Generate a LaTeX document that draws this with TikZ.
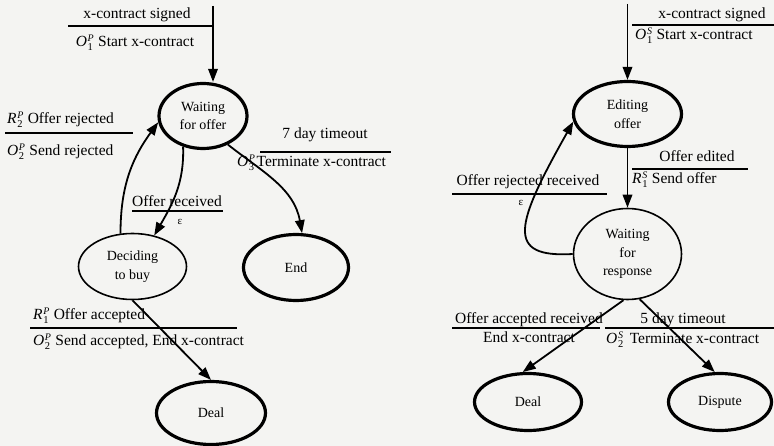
\documentclass[tikz,border=0pt]{standalone}
\usepackage{fontspec}
\setmainfont{Liberation Serif}
\usetikzlibrary{arrows.meta,shapes.geometric}

% transition label symbol: italic letter with stacked sub- and superscript
\newcommand{\trsym}[3]{\textit{#1}\kern0.6pt${}^{\mbox{\fontsize{10}{10}\selectfont\itshape #3}}_{\mbox{\fontsize{10.5}{10.5}\selectfont #2}}$}

\definecolor{paper}{RGB}{244,244,242}

\tikzset{
  state/.style={ellipse, draw, line width=1.6pt, inner sep=0pt,
    font=\fontsize{14}{18.5}\selectfont, align=center},
  final/.style={state, line width=3.2pt},
  lab/.style={inner sep=0pt, text height=11pt, text depth=3.5pt,
    font=\fontsize{15.5}{18}\selectfont},
  epsl/.style={inner sep=0pt, font=\fontsize{11}{11}\selectfont},
  rule/.style={line width=1.5pt},
  edge/.style={line width=1.8pt, -{Triangle[length=13pt,width=9.5pt]}}
}

\begin{document}
\begin{tikzpicture}[x=1pt,y=-1pt]
\fill[paper] (0,0) rectangle (774,446);
\useasboundingbox (0,0) rectangle (774,446);

% ---- buyer side states
\node[final, minimum width=88pt, minimum height=65pt] (wfo) at (203,116) {Waiting\\for offer};
\node[state, minimum width=108pt, minimum height=66pt] (dtb) at (132.5,266.5) {Deciding\\to buy};
\node[final, minimum width=105pt, minimum height=66pt] (end) at (296,267.5) {End};
\node[final, minimum width=109pt, minimum height=63pt] (deal1) at (211,413) {Deal};

% ---- seller side states
\node[final, minimum width=108pt, minimum height=65pt] (edit) at (627.5,114) {Editing\\offer};
\node[state, minimum width=108pt, minimum height=91pt] (wfr) at (627.5,254) {Waiting\\for\\response};
\node[final, minimum width=107pt, minimum height=57pt] (deal2) at (528,402) {Deal};
\node[final, minimum width=103pt, minimum height=57pt] (disp) at (720,402) {Dispute};

% ---- buyer side labels
\node[lab] (l1a) at (137,15) {x-contract signed};
\draw[rule] (68,26) -- (212,26);
\node[lab] (l1b) at (135,43) {\trsym{O}{1}{P} Start x-contract};

\node[lab, anchor=west] (l2a) at (7,120) {\trsym{R}{2}{P} Offer rejected};
\draw[rule] (5,133) -- (133,133);
\node[lab, anchor=west] (l2b) at (7,152) {\trsym{O}{2}{P} Send rejected};

\node[lab] (l3a) at (177,203) {Offer received};
\draw[rule] (132,211) -- (223,211);
\node[epsl] (l3b) at (180,222) {ε};

\node[lab] (l4a) at (325,135) {7 day timeout};
\draw[rule] (260,152) -- (391,152);
\node[lab, anchor=west] (l4b) at (237,163) {\trsym{O}{3}{P}\hspace{1pt}Terminate x-contract};

\node[lab, anchor=west] (l5a) at (33,316) {\trsym{R}{1}{P} Offer accepted};
\draw[rule] (30,328) -- (237,328);
\node[lab, anchor=west] (l5b) at (33,342) {\trsym{O}{2}{P} Send accepted, End x-contract};

% ---- seller side labels
\node[lab] (r1a) at (712,15) {x-contract signed};
\draw[rule] (632,25) -- (774,25);
\node[lab, anchor=west] (r1b) at (635,36) {\trsym{O}{1}{S} Start x-contract};

\node[lab] (r2a) at (697,158) {Offer edited};
\draw[rule] (632,169) -- (748,169);
\node[lab, anchor=west] (r2b) at (632,180) {\trsym{R}{1}{S} Send offer};

\node[lab] (r3a) at (528,182) {Offer rejected received};
\draw[rule] (452,194) -- (607,194);
\node[epsl] (r3b) at (521,203) {ε};

\node[lab] (r4a) at (529,320) {Offer accepted received};
\draw[rule] (452,328) -- (600,328);
\node[lab] (r4b) at (529,339) {End x-contract};

\node[lab] (r5a) at (683,320) {5 day timeout};
\draw[rule] (605,328) -- (774,328);
\node[lab, anchor=west] (r5b) at (606,340) {\trsym{O}{2}{S}\hspace{6pt}Terminate x-contract};

% ---- buyer side transitions
\coordinate (in1) at (213,6);
\draw[edge] (in1) -- (in1 |- wfo.north);
\draw[edge] (wfo.-123) to[out=-88,in=60] (dtb.55);
\draw[edge] (dtb.110) to[out=90,in=234] (wfo.188);
\draw[edge] (wfo.-49) to[out=-38,in=100] (end.80);
\draw[edge] (dtb.south) -- (deal1.north);

% ---- seller side transitions
\coordinate (in2) at (627.5,4);
\draw[edge] (in2) -- (edit.north);
\draw[edge] (edit.south) -- (wfr.north);
\draw[edge] (wfr.180) .. controls (505,258) and (515,225) .. (edit.188);
\draw[edge] (wfr.-95) -- (deal2.100);
\draw[edge] (wfr.-75) -- (disp.100);
\end{tikzpicture}
\end{document}
